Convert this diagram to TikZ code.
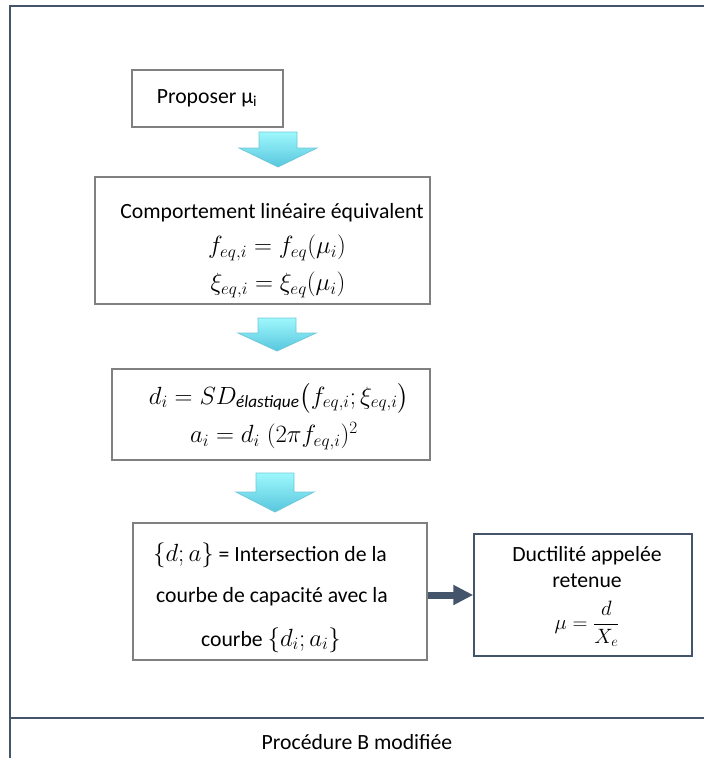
\documentclass[tikz,border=0pt]{standalone}
\usepackage{amsmath}
\usepackage{fontspec}
\setmainfont{Carlito}
\usetikzlibrary{arrows.meta,calc}
\definecolor{frameblue}{RGB}{68,84,106}
\definecolor{boxgray}{RGB}{128,128,128}
\definecolor{cyantop}{RGB}{158,248,252}
\definecolor{cyanbot}{RGB}{88,198,222}
\definecolor{cyanline}{RGB}{110,200,218}
\tikzset{
  graybox/.style={draw=boxgray, line width=1.4pt, inner sep=0pt},
  bluebox/.style={draw=frameblue, line width=1.5pt, inner sep=0pt},
  txt/.style={inner sep=0pt, anchor=center, font=\fontsize{21.7}{26}\selectfont},
  mtxt/.style={inner sep=0pt, anchor=center, font=\fontsize{24.5}{29}\selectfont},
  blockarrow/.style={top color=cyantop, bottom color=cyanbot, draw=cyanline, line width=0.8pt},
  darkarrow/.style={draw=frameblue, line width=7pt, -{Triangle[length=20pt,width=19pt]}},
  frameline/.style={draw=frameblue, line width=2pt}
}
\newcommand{\blockarr}[4]{% cx, top, headstart, tip
  \shade[blockarrow] (#1-19,#2) -- (#1+19,#2) -- (#1+19,#3) -- (#1+39,#3) -- (#1,#4) -- (#1-39,#3) -- (#1-19,#3) -- cycle;
}
\begin{document}
\begin{tikzpicture}[x=1pt,y=-1pt]
\useasboundingbox (0,0) rectangle (704,758);
% outer frame
\draw[frameline] (10,758) -- (10,6) -- (704,6);
\draw[frameline] (10,718) -- (704,718);
\node[txt] (cap) at (357,742) {Procédure B modifiée};

% boxes
\node[graybox, minimum width=151pt, minimum height=57pt] (b1) at (207.5,98.5) {};
\node[graybox, minimum width=335pt, minimum height=127pt] (b2) at (262.5,240.5) {};
\node[graybox, minimum width=318pt, minimum height=91pt] (b3) at (271,414.5) {};
\node[graybox, minimum width=294pt, minimum height=137pt] (b4) at (280,591.5) {};
\node[bluebox, minimum width=218pt, minimum height=122pt] (b5) at (583,595) {};

% texts
\node[txt] (t1) at (207,98) {Proposer μ\textsubscript{i}};
\node[txt] (t2a) at (272,213) {Comportement linéaire équivalent};
\node[mtxt] (t2b) at (277,248) {$f_{eq,i}=f_{eq}(\mu_i)$};
\node[mtxt] (t2c) at (278,285) {$\xi_{eq,i}=\xi_{eq}(\mu_i)$};
\node[mtxt] (t3a) at (279,398) {$d_i=SD_{\textit{élastique}}\bigl(f_{eq,i};\xi_{eq,i}\bigr)$};
\node[mtxt] (t3b) at (274,436) {$a_i=d_i\;(2\pi f_{eq,i})^2$};
\node[txt] (t4a) at (270,555) {{\fontsize{24.5}{29}\selectfont$\{d;a\}$} = Intersection de la};
\node[txt] (t4b) at (272,597) {courbe de capacité avec la};
\node[txt] (t4c) at (271,640) {courbe {\fontsize{24.5}{29}\selectfont$\{d_i;a_i\}$}};
\node[txt] (t5a) at (587,556) {Ductilité appelée};
\node[txt] (t5b) at (587,581) {retenue};
\node[inner sep=0pt, anchor=center, font=\fontsize{22}{26}\selectfont] (t5c) at (587,624) {$\mu=\dfrac{d}{X_e}$};

% block arrows
\blockarr{278}{132}{148}{167}
\blockarr{277}{318}{333}{351}
\blockarr{275}{473}{492}{512}

% connector
\draw[darkarrow] (b4.east |- b5.west) -- (b5.west);
\end{tikzpicture}
\end{document}
